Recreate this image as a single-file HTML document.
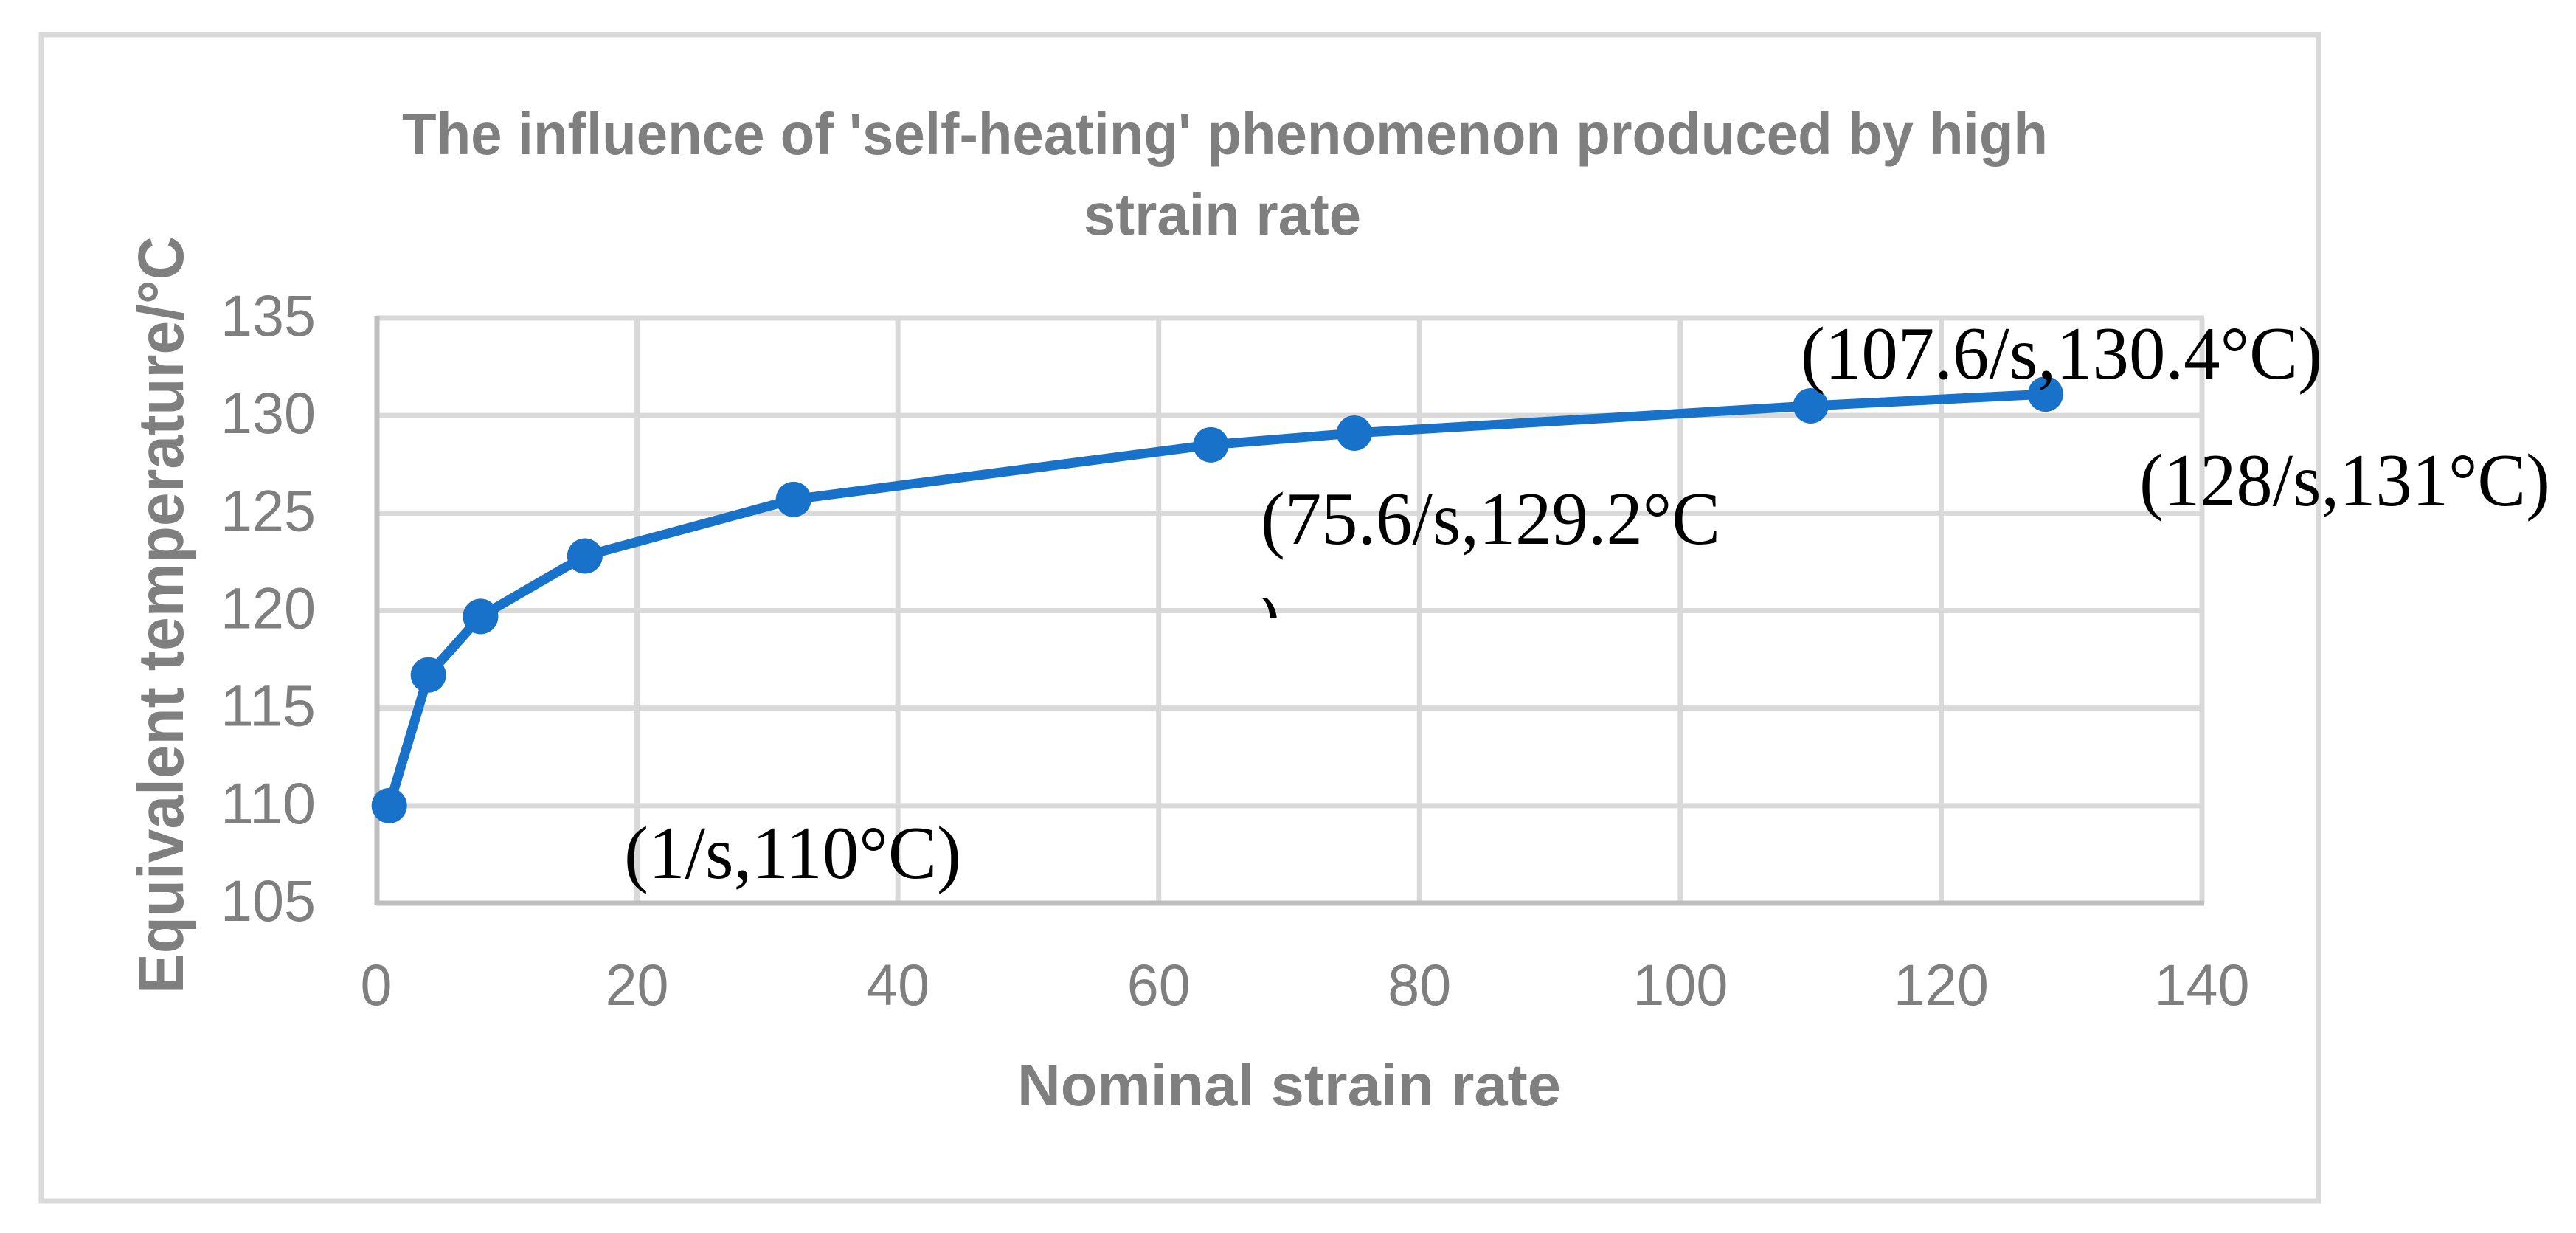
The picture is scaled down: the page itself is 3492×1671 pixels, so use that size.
<!DOCTYPE html>
<html lang="en">
<head>
<meta charset="utf-8">
<title>Self-heating chart</title>
<style>
html,body{margin:0;padding:0;background:#fff;}
svg{display:block;}
text{font-family:"Liberation Sans",sans-serif;}
.ann{font-family:"Liberation Serif",serif;fill:#000;font-size:102px;}
.ttl{font-weight:bold;fill:#7f7f7f;font-size:80px;}
</style>
</head>
<body>
<svg id="chart" xmlns="http://www.w3.org/2000/svg" width="3492" height="1671" viewBox="0 0 3492 1671">
  <rect x="56" y="47" width="3087" height="1581" fill="#fff" stroke="#d9d9d9" stroke-width="7"/>
  <g id="grid"></g>
  <g id="axes"></g>
  <g id="ticks"></g>
  <g id="series"></g>
  <text class="ttl" x="545" y="209" textLength="2231" lengthAdjust="spacingAndGlyphs">The influence of 'self-heating' phenomenon produced by high</text>
  <text class="ttl" x="1469" y="318" textLength="376" lengthAdjust="spacingAndGlyphs">strain rate</text>
  <text class="ttl" x="1379" y="1498" textLength="737" lengthAdjust="spacingAndGlyphs">Nominal strain rate</text>
  <text class="ttl" transform="translate(248,1347) rotate(-90)" x="0" y="0" textLength="1027" lengthAdjust="spacingAndGlyphs" style="font-size:87px">Equivalent temperature/°C</text>
  <text class="ann" x="846" y="1190" textLength="457" lengthAdjust="spacingAndGlyphs">(1/s,110°C)</text>
  <text class="ann" x="1709" y="737" textLength="623" lengthAdjust="spacingAndGlyphs">(75.6/s,129.2°C</text>
  <clipPath id="parenClip"><rect x="1700" y="811" width="50" height="26"/></clipPath>
  <g clip-path="url(#parenClip)"><text class="ann" x="1702" y="873">)</text></g>
  <text class="ann" x="2441" y="513" textLength="707" lengthAdjust="spacingAndGlyphs">(107.6/s,130.4°C)</text>
  <text class="ann" x="2900" y="685" textLength="557" lengthAdjust="spacingAndGlyphs">(128/s,131°C)</text>
</svg>
<script>
var xValues = [1, 4, 8, 16, 32, 64, 75, 110, 128];
var yValues = [110, 116.7, 119.7, 122.8, 125.7, 128.5, 129.1, 130.5, 131.1];
var xTicks = [0, 20, 40, 60, 80, 100, 120, 140];
var yTicks = [105, 110, 115, 120, 125, 130, 135];

var NS = 'http://www.w3.org/2000/svg';
var plot = {left: 510, right: 2985, top: 431, bottom: 1224};
function xScale(v) {
  var a = xTicks[0], b = xTicks[xTicks.length - 1];
  return plot.left + (v - a) / (b - a) * (plot.right - plot.left);
}
function yScale(v) {
  var a = yTicks[0], b = yTicks[yTicks.length - 1];
  return plot.bottom - (v - a) / (b - a) * (plot.bottom - plot.top);
}
function make(tag, attrs, parent) {
  var el = document.createElementNS(NS, tag);
  for (var k in attrs) { el.setAttribute(k, attrs[k]); }
  parent.appendChild(el);
  return el;
}
var digitWidth = 43;
var gridG = document.getElementById('grid');
var axesG = document.getElementById('axes');
var ticksG = document.getElementById('ticks');
var seriesG = document.getElementById('series');

xTicks.forEach(function (t) {
  var x = xScale(t);
  if (t !== xTicks[0]) {
    var gl = make('line', {x1: x, x2: x, y1: plot.top, y2: plot.bottom, stroke: '#d9d9d9', 'stroke-width': 7}, gridG);
    
    
  }
  var lab = make('text', {x: x, y: 1362, 'text-anchor': 'middle', fill: '#7f7f7f', 'font-size': 79, textLength: String(t).length * digitWidth, lengthAdjust: 'spacingAndGlyphs'}, ticksG);
  lab.textContent = String(t);
  
  
});
yTicks.forEach(function (t) {
  var y = yScale(t);
  if (t !== yTicks[0]) {
    var gl = make('line', {x1: plot.left, x2: plot.right + 3, y1: y, y2: y, stroke: '#d9d9d9', 'stroke-width': 7}, gridG);
    
    
  }
  var lab = make('text', {x: 428, y: y + 24, 'text-anchor': 'end', fill: '#7f7f7f', 'font-size': 79, textLength: String(t).length * digitWidth, lengthAdjust: 'spacingAndGlyphs'}, ticksG);
  lab.textContent = String(t);
  
  
});
var yAxis = make('line', {x1: plot.left + 1, x2: plot.left + 1, y1: plot.top - 3, y2: plot.bottom + 3, stroke: '#bfbfbf', 'stroke-width': 7}, axesG);


var xAxis = make('line', {x1: plot.left, x2: plot.right + 3, y1: plot.bottom, y2: plot.bottom, stroke: '#bfbfbf', 'stroke-width': 7}, axesG);



var pts = xValues.map(function (v, i) { return xScale(v) + ',' + yScale(yValues[i]); }).join(' ');
var poly = make('polyline', {points: pts, fill: 'none', stroke: '#1872c9', 'stroke-width': 13, 'stroke-linejoin': 'round'}, seriesG);


xValues.forEach(function (v, i) {
  var c = make('circle', {cx: xScale(v), cy: yScale(yValues[i]), r: 24, fill: '#1872c9'}, seriesG);
  
  
});
</script>
</body>
</html>
